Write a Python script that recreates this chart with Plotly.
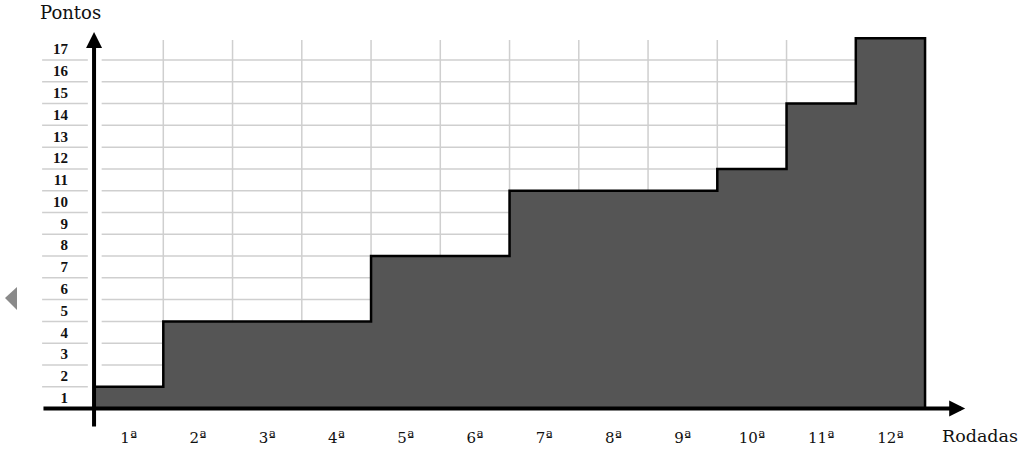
import plotly.graph_objects as go

# ---- data ----
rodadas = ["1ª", "2ª", "3ª", "4ª", "5ª", "6ª", "7ª", "8ª", "9ª", "10ª", "11ª", "12ª"]
pontos = [1, 4, 4, 4, 7, 7, 10, 10, 10, 11, 14, 17]
y_tick_labels = [str(k) for k in range(1, 18)]

n = len(rodadas)
fig = go.Figure()

# step outline + fill (column boundaries from the category index)
xs = list(range(n + 1)) + [n]
ys = pontos + [pontos[-1], 0]
fig.add_trace(go.Scatter(
    x=xs, y=ys, mode="lines", line=dict(shape="hv", color="#000000", width=2.5),
    fill="tozeroy", fillcolor="#555555", hoverinfo="skip", showlegend=False,
))

grid_color = "#cfcfcf"
shapes = []
# horizontal grid lines (levels 1..16)
for k in range(1, len(y_tick_labels)):
    shapes.append(dict(type="line", xref="x", yref="y", x0=-0.75, x1=-0.09, y0=k, y1=k,
                       line=dict(color=grid_color, width=1.5), layer="below"))
    shapes.append(dict(type="line", xref="x", yref="y", x0=0.11, x1=n, y0=k, y1=k,
                       line=dict(color=grid_color, width=1.5), layer="below"))
# vertical grid lines at column boundaries
for i in range(1, n):
    shapes.append(dict(type="line", xref="x", yref="y", x0=i, x1=i, y0=0, y1=16.92,
                       line=dict(color=grid_color, width=1.5), layer="below"))
# small grey triangle on the left edge
shapes.append(dict(type="path", xref="paper", yref="paper",
                   path="M 0.00488 0.3363 L 0.0166 0.3608 L 0.0166 0.3096 Z",
                   fillcolor="#8a8a8a", line=dict(width=0)))

annotations = [
    # y axis arrow
    dict(x=0, y=17.29, ax=0, ay=-0.9, xref="x", yref="y", axref="x", ayref="y",
         text="", showarrow=True, arrowhead=2, arrowwidth=4, arrowsize=0.8, arrowcolor="#000"),
    # x axis arrow
    dict(x=12.58, y=0, ax=-0.752, ay=0, xref="x", yref="y", axref="x", ayref="y",
         text="", showarrow=True, arrowhead=2, arrowwidth=4, arrowsize=0.8, arrowcolor="#000"),
    dict(x=-0.333, y=18.2, xref="x", yref="y", text="Pontos", showarrow=False,
         font=dict(family="DejaVu Serif", size=18, color="#111")),
    dict(x=12.794, y=-1.263, xref="x", yref="y", text="Rodadas", showarrow=False,
         font=dict(family="DejaVu Serif", size=17.5, color="#111")),
]

fig.update_layout(
    width=1024, height=449,
    margin=dict(l=0, r=0, t=0, b=0),
    paper_bgcolor="white", plot_bgcolor="white",
    shapes=shapes, annotations=annotations,
    xaxis=dict(range=[-1.3581, 13.4289], showgrid=False, zeroline=False, showline=False,
               tickvals=[i + 0.5 for i in range(n)], ticktext=rodadas,
               anchor="free", position=0.0902, ticks="", ticklabelstandoff=18,
               tickfont=dict(family="DejaVu Serif", size=15, color="#111"),
               fixedrange=True),
    yaxis=dict(range=[-1.8595, 18.756], showgrid=False, zeroline=False, showline=False,
               tickvals=[k - 0.5 for k in range(1, len(y_tick_labels) + 1)],
               ticktext=y_tick_labels,
               anchor="free", position=0.0918, ticks="", ticklabelstandoff=26,
               tickfont=dict(family="Liberation Serif", size=15, color="#111", weight="bold"),
               fixedrange=True),
    showlegend=False,
)

fig.write_html("out.html", config={"displayModeBar": False})

# remove the browser's default body margin so the figure sits at the page origin
with open("out.html", "r", encoding="utf-8") as f:
    html = f.read()
html = html.replace("<head>", "<head><style>html,body{margin:0;padding:0;overflow:hidden;}</style>", 1)
with open("out.html", "w", encoding="utf-8") as f:
    f.write(html)
